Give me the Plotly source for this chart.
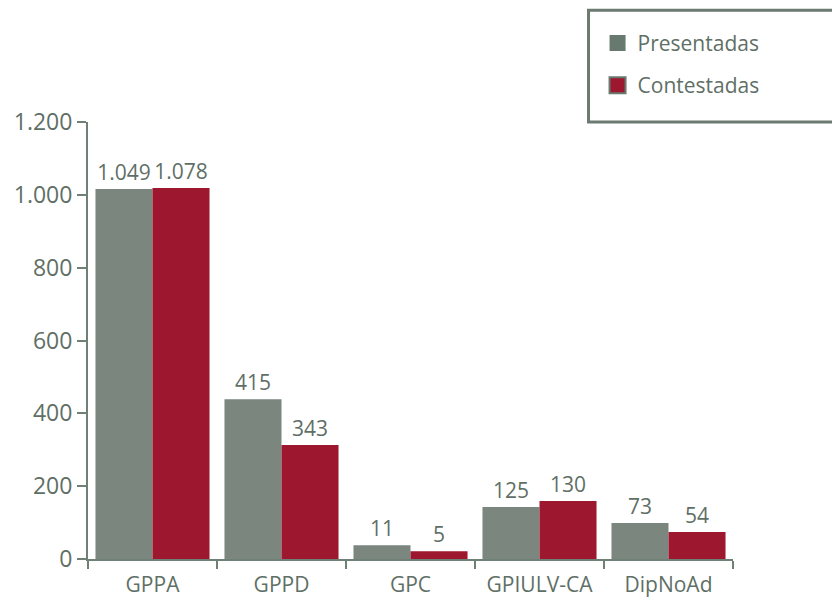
import plotly.graph_objects as go

categorias = ["GPPA", "GPPD", "GPC", "GPIULV-CA", "DipNoAd"]
presentadas_altura = [1016, 439, 38, 143, 99]
contestadas_altura = [1019, 313, 21, 159, 74]
# value labels printed above the bars
presentadas_etiqueta = ["1.049", "415", "11", "125", "73"]
contestadas_etiqueta = ["1.078", "343", "5", "130", "54"]
y_ticks = [0, 200, 400, 600, 800, 1000, 1200]
y_tick_labels = ["0", "200", "400", "600", "800", "1.000", "1.200"]
series = ["Presentadas", "Contestadas"]

GRIS = "#7a867e"
ROJO = "#9d172f"
TEXTO = "#5f6f66"
EJE = "#6f8076"
FONT = "Open Sans"

fig = go.Figure()
fig.add_trace(go.Bar(
    x=categorias, y=presentadas_altura, name=series[0],
    marker=dict(color=GRIS, line=dict(width=0)),
    text=presentadas_etiqueta, textposition="outside", constraintext="none",
    textfont=dict(family=FONT, size=21, color=TEXTO), cliponaxis=False,
    showlegend=False,
))
fig.add_trace(go.Bar(
    x=categorias, y=contestadas_altura, name=series[1],
    marker=dict(color=ROJO, line=dict(width=0)),
    text=contestadas_etiqueta, textposition="outside", constraintext="none",
    textfont=dict(family=FONT, size=21, color=TEXTO), cliponaxis=False,
    showlegend=False,
))
# legend-only entries with larger square swatches
fig.add_trace(go.Scatter(
    x=[None], y=[None], mode="markers", name=series[0], legendgroup="a",
    marker=dict(symbol="square", size=16, color="#687a70", line=dict(width=0)),
))
fig.add_trace(go.Scatter(
    x=[None], y=[None], mode="markers", name=series[1], legendgroup="b",
    marker=dict(symbol="square", size=16, color=ROJO, line=dict(width=2, color="#687a70")),
))

fig.update_layout(
    width=832, height=590,
    margin=dict(l=80, r=107, t=114, b=39, autoexpand=False),
    paper_bgcolor="white", plot_bgcolor="white",
    barmode="group", bargap=0.116, bargroupgap=0,
    font=dict(family=FONT, size=21, color=TEXTO),
    showlegend=True,
    legend=dict(
        x=0.79, y=1.227, xanchor="left", yanchor="top",
        font=dict(family=FONT, size=21, color=TEXTO),
        bgcolor="rgba(0,0,0,0)", borderwidth=0,
        traceorder="grouped", tracegroupgap=12,
        itemsizing="trace", itemclick=False,
    ),
    xaxis=dict(
        showline=True, linecolor=EJE, linewidth=2, automargin=False,
        ticks="outside", tickson="boundaries", ticklen=8, tickcolor=EJE, tickwidth=2,
        showgrid=False, zeroline=False, ticklabelstandoff=6,
        tickfont=dict(family=FONT, size=21, color=TEXTO),
    ),
    yaxis=dict(
        range=[0, 1200], showline=True, linecolor=EJE, linewidth=2, automargin=False,
        ticks="outside", ticklen=9, tickcolor=EJE, tickwidth=2,
        tickvals=y_ticks, ticktext=y_tick_labels,
        showgrid=False, zeroline=False,
        tickfont=dict(family=FONT, size=23, color=TEXTO),
    ),
    shapes=[dict(
        type="rect", xref="paper", yref="paper",
        x0=0.776, x1=1.35, y0=1.0, y1=1.256,
        line=dict(color="#6b7b71", width=3), fillcolor="rgba(0,0,0,0)",
    )],
)

fig.write_html("out.html")
